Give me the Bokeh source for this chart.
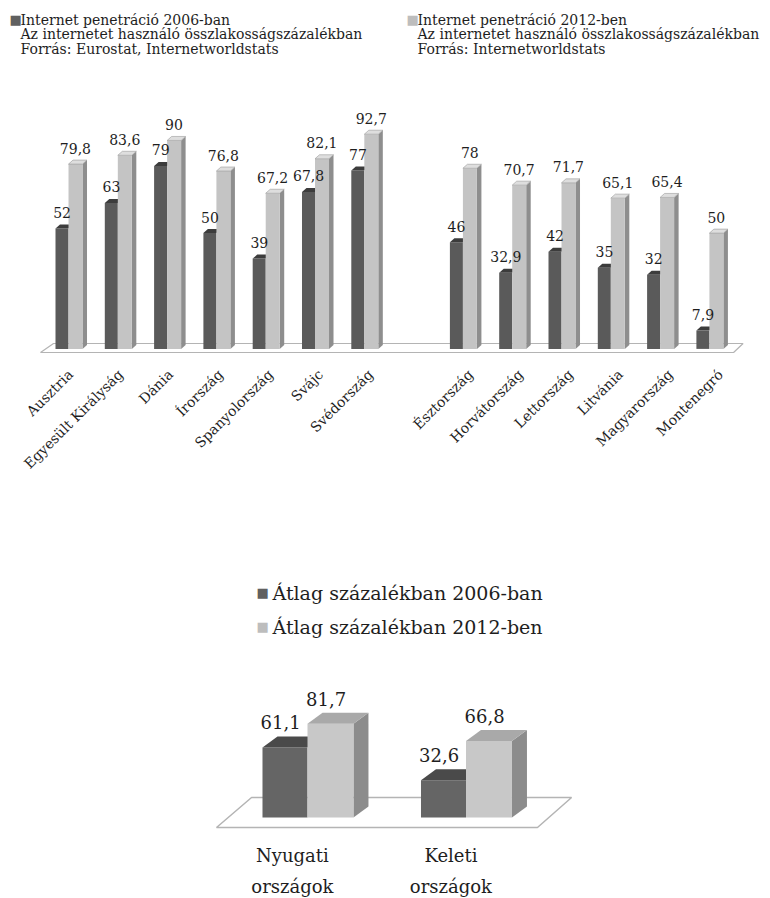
import math
from bokeh.plotting import figure
from bokeh.models import Range1d, Label, ColumnDataSource
from bokeh.core.properties import value
from bokeh.embed import file_html
from bokeh.resources import INLINE

# ---------------- data ----------------
west_countries = ["Ausztria", "Egyesült Királyság", "Dánia", "Írország",
                  "Spanyolország", "Svájc", "Svédország"]
east_countries = ["Észtország", "Horvátország", "Lettország", "Litvánia",
                  "Magyarország", "Montenegró"]
pen_2006 = [52, 63, 79, 50, 39, 67.8, 77, 46, 32.9, 42, 35, 32, 7.9]
pen_2012 = [79.8, 83.6, 90, 76.8, 67.2, 82.1, 92.7, 78, 70.7, 71.7, 65.1, 65.4, 50]
legend_2006 = ["Internet penetráció 2006-ban",
               "Az internetet használó összlakosságszázalékban",
               "Forrás: Eurostat, Internetworldstats"]
legend_2012 = ["Internet penetráció 2012-ben",
               "Az internetet használó összlakosságszázalékban",
               "Forrás: Internetworldstats"]

avg_groups = ["Nyugati országok", "Keleti országok"]
avg_2006 = [61.1, 32.6]
avg_2012 = [81.7, 66.8]
avg_legend = ["Átlag százalékban 2006-ban", "Átlag százalékban 2012-ben"]

# ---------------- style ----------------
FONT = "DejaVu Serif"
TXT = "#1e1e1e"
DARK, DARK_TOP = "#5a5a5a", "#3c3c3c"
LIGHT, LIGHT_TOP, LIGHT_SIDE = "#c4c4c4", "#dedede", "#8e8e8e"
B_DARK, B_DARK_TOP = "#656565", "#4a4a4a"
B_LIGHT, B_LIGHT_TOP, B_LIGHT_SIDE = "#c8c8c8", "#a9a9a9", "#8c8c8c"
FLOOR_LINE = "#b4b4b4"
SQ_DARK, SQ_LIGHT = "#606060", "#bdbdbd"

W, H = 770, 898

# top chart scale (pixels)
X0, DX = 69.0, 49.3      # px of first category, px per category
Y0, SY = 348.4, 2.316    # px (from top) of value 0, px per unit
# bottom chart scale (pixels)
BX0, BDX = 307.0, 158.5
BY0, BSY = 817.0, 1.146


def fmt(v):
    return f"{v:g}".replace(".", ",")


p = figure(width=W, height=H, output_backend="svg", toolbar_location=None,
           x_range=Range1d(-X0 / DX, (W - X0) / DX),
           y_range=Range1d((Y0 - H) / SY, Y0 / SY),
           x_axis_location=None, y_axis_location=None,
           min_border=0, outline_line_color=None,
           background_fill_color="white", border_fill_color="white")
p.grid.visible = False
p.extra_x_ranges = {"bx": Range1d(-BX0 / BDX, (W - BX0) / BDX)}
p.extra_y_ranges = {"by": Range1d((BY0 - H) / BSY, BY0 / BSY)}

F = value(FONT)

# ---------------- top chart ----------------
idx = list(range(len(west_countries))) + \
      [len(west_countries) + 1 + j for j in range(len(east_countries))]
names = west_countries + east_countries

# floor
fl_y0, fl_y1 = -3.6 / SY, 5.4 / SY
p.patch([idx[0] - 0.588, idx[-1] + 0.47, idx[-1] + 0.47 + 9.5 / DX, idx[0] - 0.588 + 13 / DX],
        [fl_y0, fl_y0, fl_y1, fl_y1],
        fill_color="white", line_color=FLOOR_LINE, line_width=1.2)

ddx, ddy = 4.5 / DX, 4.0 / SY
dl, dr = -0.284, -0.02
ll, lr = -0.02, 0.264

src = ColumnDataSource(dict(
    x=idx,
    dl=[i + dl for i in idx], dr=[i + dr for i in idx],
    ll=[i + ll for i in idx], lr=[i + lr for i in idx],
    v06=pen_2006, v12=pen_2012,
    t06=[fmt(v) for v in pen_2006], t12=[fmt(v) for v in pen_2012],
    xd=[i - 0.15 for i in idx], xl=[i + 0.12 for i in idx],
    xname=[i - 0.04 + 0.014 * i for i in idx],
    name=names, zero=[0] * len(idx),
))

p.quad(left="dl", right="dr", bottom="zero", top="v06", source=src,
       fill_color=DARK, line_color=None)
p.patches([[i + dl, i + dr, i + dr + ddx, i + dl + ddx] for i in idx],
          [[v, v, v + ddy, v + ddy] for v in pen_2006],
          fill_color=DARK_TOP, line_color=None)
p.patches([[i + lr, i + lr + ddx, i + lr + ddx, i + lr] for i in idx],
          [[0, ddy, v + ddy, v] for v in pen_2012],
          fill_color=LIGHT_SIDE, line_color=None)
p.quad(left="ll", right="lr", bottom="zero", top="v12", source=src,
       fill_color=LIGHT, line_color=None)
p.patches([[i + ll, i + lr, i + lr + ddx, i + ll + ddx] for i in idx],
          [[v, v, v + ddy, v + ddy] for v in pen_2012],
          fill_color=LIGHT_TOP, line_color="#9a9a9a", line_width=0.6)

p.text(x="xd", y="v06", text="t06", source=src, text_align="center",
       text_baseline="middle", y_offset=-16, text_font=F,
       text_font_size="14px", text_color=TXT)
p.text(x="xl", y="v12", text="t12", source=src, text_align="center",
       text_baseline="middle", y_offset=-16, text_font=F,
       text_font_size="14px", text_color=TXT)
p.text(x="xname", y="zero", text="name", source=src, angle=math.pi / 4,
       text_align="right", text_baseline="middle", x_offset=3, y_offset=23,
       text_font=F, text_font_size="14px", text_color=TXT)

# top legend
for col, (lines, color) in enumerate([(legend_2006, SQ_DARK), (legend_2012, SQ_LIGHT)]):
    sx = 9 + col * 397
    p.add_layout(Label(x=sx, y=H - 19, x_units="screen", y_units="screen",
                       text="■", text_font=FONT, text_font_size="13px",
                       text_color=color, text_baseline="middle"))
    for k, line in enumerate(lines):
        p.add_layout(Label(x=sx + 11, y=H - 19 - 14.5 * k, x_units="screen",
                           y_units="screen", text=line, text_font=FONT,
                           text_font_size="14px", text_color=TXT,
                           text_baseline="middle"))

# ---------------- bottom chart ----------------
bidx = list(range(len(avg_groups)))
bdx, bdy = 15 / BDX, 11 / BSY
bdl, bdr = -0.284, 0.0
bll, blr = 0.0, 0.29

# floor
bfy0, bfy1 = -10 / BSY, 20 / BSY
p.patch([bidx[0] - 0.574, bidx[-1] + 0.451, bidx[-1] + 0.666, bidx[0] - 0.353],
        [bfy0, bfy0, bfy1, bfy1], x_range_name="bx", y_range_name="by",
        fill_color="white", line_color=FLOOR_LINE, line_width=1.5)

bsrc = ColumnDataSource(dict(
    x=bidx,
    dl=[k + bdl for k in bidx], dr=[k + bdr for k in bidx],
    ll=[k + bll for k in bidx], lr=[k + blr for k in bidx],
    v06=avg_2006, v12=avg_2012,
    t06=[fmt(v) for v in avg_2006], t12=[fmt(v) for v in avg_2012],
    xd=[k - 0.17 for k in bidx], xl=[k + 0.117 for k in bidx],
    line1=[g.split(" ")[0] for g in avg_groups],
    line2=[g.split(" ")[1] for g in avg_groups],
    xlab=[k - 0.095 for k in bidx], zero=[0] * len(bidx),
))

p.quad(left="dl", right="dr", bottom="zero", top="v06", source=bsrc,
       x_range_name="bx", y_range_name="by", fill_color=B_DARK, line_color=None)
p.patches([[k + bdl, k + bdr, k + bdr + bdx, k + bdl + bdx] for k in bidx],
          [[v, v, v + bdy, v + bdy] for v in avg_2006],
          x_range_name="bx", y_range_name="by", fill_color=B_DARK_TOP, line_color=None)
p.patches([[k + blr, k + blr + bdx, k + blr + bdx, k + blr] for k in bidx],
          [[0, bdy, v + bdy, v] for v in avg_2012],
          x_range_name="bx", y_range_name="by", fill_color=B_LIGHT_SIDE, line_color=None)
p.quad(left="ll", right="lr", bottom="zero", top="v12", source=bsrc,
       x_range_name="bx", y_range_name="by", fill_color=B_LIGHT, line_color=None)
p.patches([[k + bll, k + blr, k + blr + bdx, k + bll + bdx] for k in bidx],
          [[v, v, v + bdy, v + bdy] for v in avg_2012],
          x_range_name="bx", y_range_name="by", fill_color=B_LIGHT_TOP, line_color=None)

p.text(x="xd", y="v06", text="t06", source=bsrc, x_range_name="bx", y_range_name="by",
       text_align="center", text_baseline="middle", y_offset=-25,
       text_font=F, text_font_size="18px", text_color=TXT)
p.text(x="xl", y="v12", text="t12", source=bsrc, x_range_name="bx", y_range_name="by",
       text_align="center", text_baseline="middle", y_offset=-25,
       text_font=F, text_font_size="18px", text_color=TXT)
p.text(x="xlab", y="zero", text="line1", source=bsrc, x_range_name="bx", y_range_name="by",
       text_align="center", text_baseline="middle", y_offset=38,
       text_font=F, text_font_size="18px", text_color=TXT)
p.text(x="xlab", y="zero", text="line2", source=bsrc, x_range_name="bx", y_range_name="by",
       text_align="center", text_baseline="middle", y_offset=69,
       text_font=F, text_font_size="18px", text_color=TXT)

# bottom legend
for k, (txt, color) in enumerate(zip(avg_legend, [SQ_DARK, SQ_LIGHT])):
    cy = 592 + 34 * k
    p.add_layout(Label(x=256, y=H - cy, x_units="screen", y_units="screen",
                       text="■", text_font=FONT, text_font_size="13px",
                       text_color=color, text_baseline="middle"))
    p.add_layout(Label(x=272, y=H - cy, x_units="screen", y_units="screen",
                       text=txt, text_font=FONT, text_font_size="19px",
                       text_color=TXT, text_baseline="middle"))

open("out.html", "w").write(file_html(p, INLINE))
